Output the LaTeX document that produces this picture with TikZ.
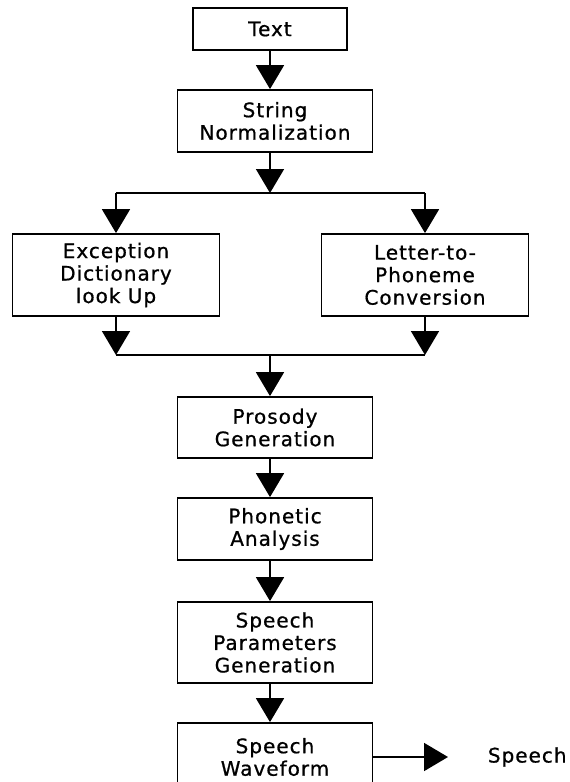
\documentclass[tikz,border=0pt]{standalone}
\usepackage{fontspec}
\setmainfont{DejaVu Sans}[LetterSpace=5, FakeBold=0.8]
\usetikzlibrary{arrows.meta}
\begin{document}
\begin{tikzpicture}[x=1pt, y=-1pt, line width=1.8pt,
    font=\fontsize{20}{22.5}\selectfont,
    blk/.style={draw, align=center, inner sep=0pt, minimum width=195pt},
    arr/.style={-{Triangle[width=28pt,length=24pt]}}]
  \useasboundingbox (0,0) rectangle (570,782);
  \node[blk, minimum width=154pt, minimum height=42pt] (text) at (270,29) {Text};
  \node[blk, minimum height=62pt] (norm) at (275,121) {String\\Normalization};
  \node[blk, minimum width=207pt, minimum height=82pt] (exc) at (116,275) {Exception\\Dictionary\\look Up};
  \node[blk, minimum width=207pt, minimum height=82pt] (ltp) at (425,275) {Letter-to-\\Phoneme\\Conversion};
  \node[blk, minimum height=61pt] (pros) at (275,427.5) {Prosody\\Generation};
  \node[blk, minimum height=62pt] (phon) at (275,529) {Phonetic\\Analysis};
  \node[blk, minimum height=81pt] (param) at (275,642.5) {Speech\\Parameters\\Generation};
  \node[blk, minimum height=68pt] (wave) at (275,757) {Speech\\Waveform};
  \node[anchor=west, inner sep=0pt] (speech) at (487,757) {Speech};
  \coordinate (split) at (270,193);
  \coordinate (merge) at (270,355);
  \coordinate (out) at (448,757);

  \draw[arr] (text.south) -- (text.south |- norm.north);
  \draw[arr] (split |- norm.south) -- (split);
  \draw (exc.north |- split) -- (ltp.north |- split);
  \draw[arr] (exc.north |- split) -- (exc.north);
  \draw[arr] (ltp.north |- split) -- (ltp.north);
  \draw[arr] (exc.south) -- (exc.south |- merge);
  \draw[arr] (ltp.south) -- (ltp.south |- merge);
  \draw (exc.south |- merge) -- (ltp.south |- merge);
  \draw[arr] (merge) -- (merge |- pros.north);
  \draw[arr] (merge |- pros.south) -- (merge |- phon.north);
  \draw[arr] (merge |- phon.south) -- (merge |- param.north);
  \draw[arr] (merge |- param.south) -- (merge |- wave.north);
  \draw[arr] (wave.east) -- (out);
\end{tikzpicture}
\end{document}
